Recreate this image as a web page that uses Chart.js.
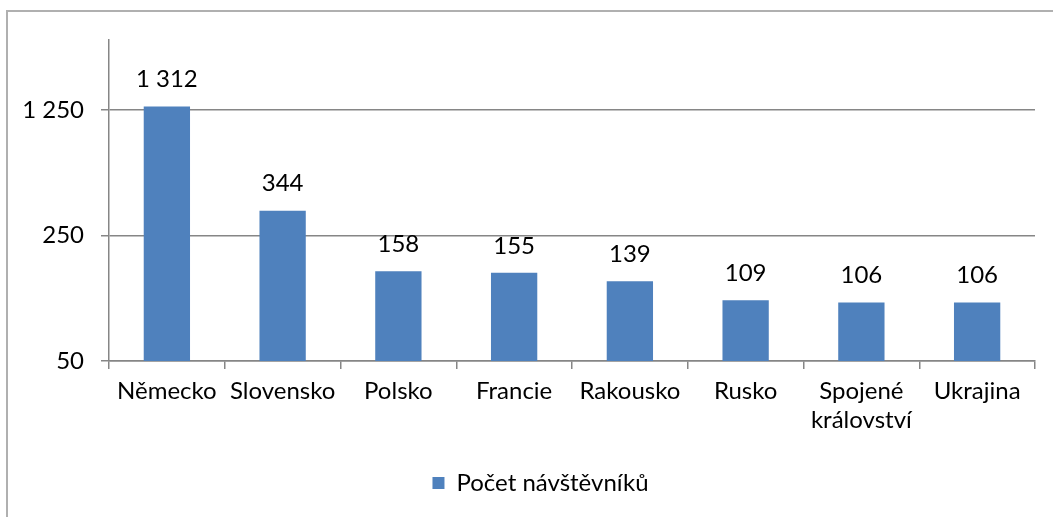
<!DOCTYPE html>
<html>
<head>
<meta charset="utf-8">
<script src="https://cdn.jsdelivr.net/npm/chart.js@4"></script>
<style>
  html, body { margin: 0; padding: 0; background: #fff; overflow: hidden; }
  #frame { position: absolute; left: 6px; top: 10px; width: 1200px; height: 700px; border: 2px solid #b0b0b0; }
  #wrap { position: absolute; left: 0; top: 0; width: 1053px; height: 517px; }
</style>
</head>
<body>
<div id="frame"></div>
<div id="wrap"><canvas id="chart" width="1053" height="517"></canvas></div>
<script>
// Data
var zeme = ['Německo', 'Slovensko', 'Polsko', 'Francie', 'Rakousko', 'Rusko', ['Spojené', 'království'], 'Ukrajina'];
var navstevnici = [1312, 344, 158, 155, 139, 109, 106, 106];
var osaY = [50, 250, 1250];

var pismo = "Lato, 'Noto Sans', sans-serif";
var velikost = 24;

function formatCislo(v) {
    return String(v).replace(/\B(?=(\d{3})+(?!\d))/g, ' ');
}

// popisky hodnot nad sloupci
var popiskyPlugin = {
    id: 'popisky',
    afterLayout: function (chart) {
        // legenda je v originálu vystředěná pod oblastí grafu, ne pod celým plátnem
        var posun = 23;
        chart.legend.left += posun;
        chart.legend.right += posun;
    },
    afterDatasetsDraw: function (chart) {
        var ctx = chart.ctx;
        var meta = chart.getDatasetMeta(0);
        ctx.save();
        ctx.font = velikost + 'px ' + pismo;
        ctx.fillStyle = '#000';
        ctx.textAlign = 'center';
        ctx.textBaseline = 'bottom';
        meta.data.forEach(function (bar, i) {
            ctx.fillText(formatCislo(navstevnici[i]), bar.x, bar.y - 15);
        });
        ctx.restore();
    }
};

new Chart(document.getElementById('chart'), {
    type: 'bar',
    data: {
        labels: zeme,
        datasets: [{
            label: 'Počet návštěvníků',
            data: navstevnici,
            backgroundColor: '#4f81bd',
            borderWidth: 0,
            barPercentage: 0.4,
            categoryPercentage: 1
        }]
    },
    options: {
        responsive: false,
        animation: false,
        layout: {padding: {top: 40, right: 18, left: 0, bottom: 12}},
        plugins: {
            legend: {
                position: 'bottom',
                labels: {
                    color: '#000',
                    font: {family: pismo, size: velikost},
                    boxWidth: 12,
                    boxHeight: 12,
                    padding: 10
                }
            },
            tooltip: {enabled: false}
        },
        scales: {
            x: {
                afterFit: function (scale) {
                    scale.height = 100;
                },
                grid: {drawOnChartArea: false, drawTicks: true, tickLength: 8, color: '#868686', lineWidth: 1.5, offset: true},
                border: {color: '#868686', width: 1.5},
                ticks: {color: '#000', font: {family: pismo, size: velikost}, padding: 8, maxRotation: 0, autoSkip: false}
            },
            y: {
                type: 'logarithmic',
                min: 50,
                max: 3080,
                afterBuildTicks: function (scale) {
                    scale.ticks = osaY.map(function (v) { return {value: v}; });
                },
                afterFit: function (scale) {
                    scale.width = 109;
                },
                grid: {color: '#868686', lineWidth: 1.5, tickLength: 8},
                border: {color: '#868686', width: 1.5},
                ticks: {
                    color: '#000',
                    font: {family: pismo, size: velikost},
                    padding: 17,
                    callback: function (v) { return formatCislo(v); }
                }
            }
        }
    },
    plugins: [popiskyPlugin]
});
</script>
</body>
</html>
